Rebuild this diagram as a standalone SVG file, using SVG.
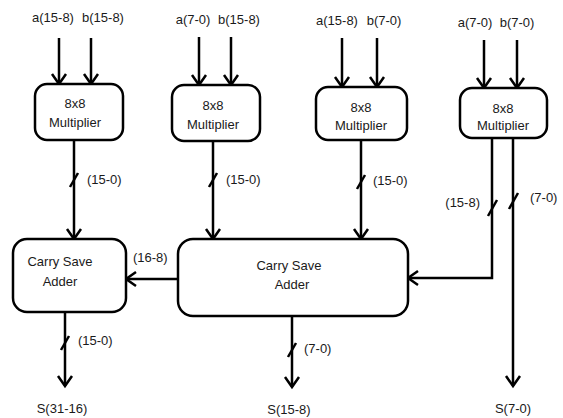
<svg xmlns="http://www.w3.org/2000/svg" width="563" height="418" viewBox="0 0 563 418">
<defs>
<marker id="ah" markerUnits="userSpaceOnUse" markerWidth="20" markerHeight="20" viewBox="-12 -10 14 20" refX="0" refY="0" orient="auto">
<path d="M-10,-7 L0,0 L-10,7" fill="none" stroke="#000" stroke-width="2.5"/>
</marker>
</defs>
<style>
.box{fill:#fff;stroke:#000;stroke-width:2.5}
.ln{fill:none;stroke:#000;stroke-width:2.5}
.ar{fill:none;stroke:#000;stroke-width:2.5;marker-end:url(#ah)}
.sl{stroke:#000;stroke-width:2.5}
text{font-family:"Liberation Sans",Arial,sans-serif;font-size:13px;fill:#1a1a1a}
.c{text-anchor:middle}
</style>
<rect width="563" height="418" fill="#fff"/>
<g id="connectors">
<line class="ar" x1="59" y1="38" x2="59" y2="84"/>
<line class="ar" x1="91" y1="38" x2="91" y2="84"/>
<line class="ar" x1="199" y1="37" x2="199" y2="85"/>
<line class="ar" x1="231" y1="37" x2="231" y2="85"/>
<line class="ar" x1="342" y1="38" x2="342" y2="87"/>
<line class="ar" x1="377" y1="38" x2="377" y2="87"/>
<line class="ar" x1="484" y1="40" x2="484" y2="88"/>
<line class="ar" x1="517" y1="40" x2="517" y2="88"/>
<line class="ar" x1="74" y1="140" x2="74" y2="239"/>
<line class="ar" x1="213" y1="141" x2="213" y2="239"/>
<line class="ar" x1="361" y1="140" x2="361" y2="239"/>
<polyline class="ar" points="492,138 492,278 408,278"/>
<line class="ar" x1="513" y1="138" x2="513" y2="386"/>
<line class="ar" x1="178" y1="279" x2="126" y2="279"/>
<line class="ar" x1="65" y1="312" x2="65" y2="386"/>
<line class="ar" x1="292" y1="316" x2="292" y2="387"/>
<line class="sl" x1="70" y1="187" x2="78" y2="173"/>
<line class="sl" x1="209" y1="187" x2="217" y2="173"/>
<line class="sl" x1="357" y1="189" x2="365" y2="175"/>
<line class="sl" x1="488" y1="216" x2="497" y2="200"/>
<line class="sl" x1="509" y1="209" x2="518" y2="193"/>
<line class="sl" x1="61" y1="350" x2="69" y2="336"/>
<line class="sl" x1="288" y1="357" x2="296" y2="343"/>
<text x="87" y="184">(15-0)</text>
<text x="226" y="184">(15-0)</text>
<text x="373" y="185">(15-0)</text>
<text x="480" y="207" text-anchor="end">(15-8)</text>
<text x="530" y="202">(7-0)</text>
<text x="133" y="262">(16-8)</text>
<text x="78" y="345">(15-0)</text>
<text x="304" y="353">(7-0)</text>
</g>
<g id="inputs">
<text class="c" x="53" y="22">a(15-8)</text>
<text class="c" x="103" y="22">b(15-8)</text>
<text class="c" x="193" y="24">a(7-0)</text>
<text class="c" x="239" y="24">b(15-8)</text>
<text class="c" x="337" y="25">a(15-8)</text>
<text class="c" x="384" y="25">b(7-0)</text>
<text class="c" x="475" y="27">a(7-0)</text>
<text class="c" x="517" y="27">b(7-0)</text>
</g>
<g id="mult1">
<rect class="box" x="35" y="84" width="88" height="56" rx="12"/>
<text class="c" x="75" y="108">8x8</text>
<text class="c" x="75" y="127">Multiplier</text>
</g>
<g id="mult2">
<rect class="box" x="172" y="85" width="88" height="56" rx="12"/>
<text class="c" x="213" y="110">8x8</text>
<text class="c" x="213" y="129">Multiplier</text>
</g>
<g id="mult3">
<rect class="box" x="316" y="87" width="91" height="53" rx="12"/>
<text class="c" x="361" y="112">8x8</text>
<text class="c" x="361" y="130">Multiplier</text>
</g>
<g id="mult4">
<rect class="box" x="460" y="88" width="87" height="50" rx="12"/>
<text class="c" x="503" y="113">8x8</text>
<text class="c" x="503" y="130">Multiplier</text>
</g>
<g id="csa1">
<rect class="box" x="13" y="239" width="113" height="73" rx="14"/>
<text class="c" x="60" y="266">Carry Save</text>
<text class="c" x="60" y="286">Adder</text>
</g>
<g id="csa2">
<rect class="box" x="178" y="239" width="230" height="77" rx="15"/>
<text class="c" x="289" y="270">Carry Save</text>
<text class="c" x="292" y="289">Adder</text>
</g>
<g id="outputs">
<text class="c" x="62" y="413">S(31-16)</text>
<text class="c" x="289" y="414">S(15-8)</text>
<text class="c" x="513" y="413">S(7-0)</text>
</g>
</svg>
